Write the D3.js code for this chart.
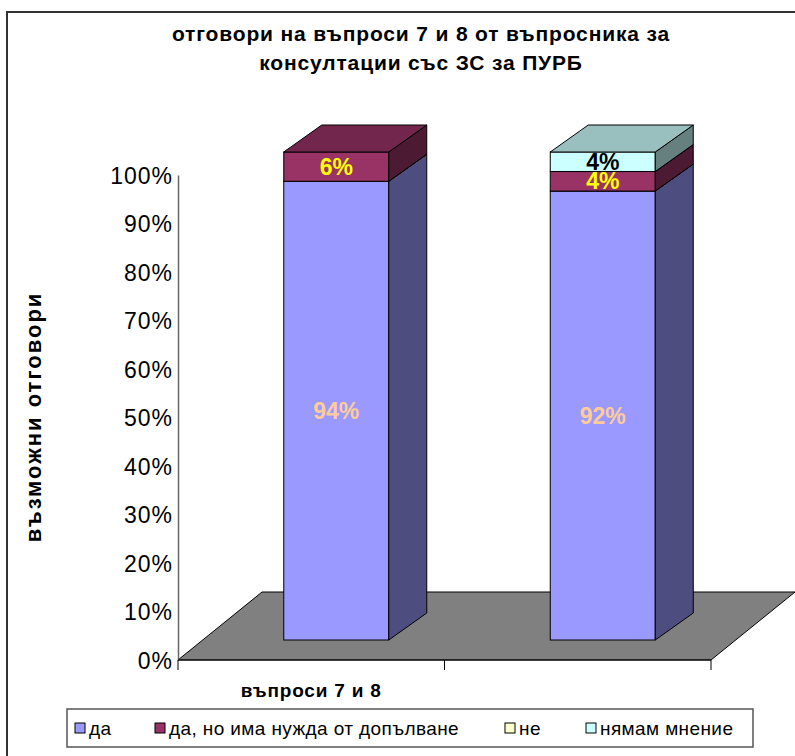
<!DOCTYPE html>
<html>
<head>
<meta charset="utf-8">
<script src="https://cdn.jsdelivr.net/npm/d3@7"></script>
<style>
  body { margin: 0; background: #fff; }
  text { font-family: Arial, "Liberation Sans", sans-serif; }
</style>
</head>
<body>
<script>
// categories on the x axis
const categories = ['q1', 'q2'];
const categoryLabel = 'въпроси 7 и 8';

// series (stack order, bottom to top)
const seriesNames = ['да', 'да, но има нужда от допълване', 'не', 'нямам мнение'];
const seriesColors = ['#9999FF', '#993366', '#FFFFCC', '#CCFFFF'];
const labelColors = ['#FFCC99', '#FFFF00', '#000000', '#000000'];

// share of answers per category, one array per series
const daValues = [0.94, 0.92];
const daNoValues = [0.06, 0.04];
const neValues = [0.00, 0.00];
const nyamamValues = [0.00, 0.04];

const yTicks = [0, 0.1, 0.2, 0.3, 0.4, 0.5, 0.6, 0.7, 0.8, 0.9, 1.0];

const w = 795, h = 756;

const svg = d3.select('body').append('svg')
    .attr('width', w)
    .attr('height', h);

// outer chart border
svg.append('rect')
    .attr('x', 7).attr('y', 12)
    .attr('width', w + 20).attr('height', h + 20)
    .attr('fill', 'none')
    .attr('stroke', '#333')
    .attr('stroke-width', 2);

// title
const title = svg.append('text')
    .attr('text-anchor', 'middle')
    .attr('font-weight', 'bold')
    .attr('font-size', 21)
    .attr('letter-spacing', 0.85);
title.append('tspan').attr('x', 421).attr('y', 41).text('отговори на въпроси 7 и 8 от въпросника за');
title.append('tspan').attr('x', 421).attr('y', 70).text('консултации със ЗС за ПУРБ');

// scales
const x = d3.scaleBand().domain(categories).range([178, 711]);
const y = d3.scaleLinear().domain([0, 1]).range([660, 175]);
// front plane of the columns sits a bit deeper than the axis plane
const floorDepth = [84, -68];
const barShift = [25, -20];
const yBar = d3.scaleLinear().domain([0, 1]).range([640, 152]);
const barDepth = [38, -27];
const barWidth = 105;

// floor
const x0 = x.range()[0], x1 = x.range()[1], y0 = y(0);
svg.append('path')
    .attr('d', `M${x0},${y0}L${x1},${y0}L${x1 + floorDepth[0]},${y0 + floorDepth[1]}L${x0 + floorDepth[0]},${y0 + floorDepth[1]}Z`)
    .attr('fill', '#808080')
    .attr('stroke', '#000')
    .attr('stroke-width', 1);

// y axis
const yAxis = d3.axisLeft(y)
    .tickValues(yTicks)
    .tickSize(0)
    .tickPadding(5)
    .tickFormat(d3.format('.0%'));
const yg = svg.append('g')
    .attr('transform', `translate(${x0},0)`)
    .call(yAxis);
yg.select('.domain').attr('stroke', '#666').attr('stroke-width', 1.5);
yg.selectAll('text')
    .attr('font-size', 23)
    .attr('letter-spacing', 1)
    .attr('dy', '0.36em')
    .attr('fill', '#000')
    .attr('font-family', 'Arial, "Liberation Sans", sans-serif');

// x axis line and tick marks
svg.append('line')
    .attr('x1', x0).attr('x2', x1)
    .attr('y1', y0).attr('y2', y0)
    .attr('stroke', '#000');
svg.selectAll('.xtick')
    .data([x0, x1 / 2 + x0 / 2, x1])
    .enter()
    .append('line')
    .attr('class', 'xtick')
    .attr('x1', d => d).attr('x2', d => d)
    .attr('y1', y0).attr('y2', y0 + 10)
    .attr('stroke', '#000');

svg.append('text')
    .attr('x', x(categories[0]) + x.bandwidth() / 2)
    .attr('y', 697)
    .attr('text-anchor', 'middle')
    .attr('font-weight', 'bold')
    .attr('font-size', 19)
    .attr('letter-spacing', 0.8)
    .text(categoryLabel);

// y axis title
svg.append('text')
    .attr('transform', 'translate(41,417) rotate(-90)')
    .attr('text-anchor', 'middle')
    .attr('font-weight', 'bold')
    .attr('font-size', 22)
    .attr('letter-spacing', 2)
    .text('възможни отговори');

// stacked data
const rows = categories.map((c, i) => ({
    cat: c,
    s0: daValues[i],
    s1: daNoValues[i],
    s2: neValues[i],
    s3: nyamamValues[i]
}));
const stack = d3.stack().keys(['s0', 's1', 's2', 's3']);
const stacked = stack(rows);

const shade = (c, k) => {
    const col = d3.rgb(c);
    return d3.rgb(col.r * k, col.g * k, col.b * k).formatHex();
};

categories.forEach((c, ci) => {
    const bx = x(c) + x.bandwidth() / 2 + barShift[0] - barWidth / 2;
    const g = svg.append('g');
    stacked.forEach((layer, si) => {
        const d = layer[ci];
        if (d[1] - d[0] <= 0) return;
        const yb = yBar(d[0]), yt = yBar(d[1]);
        const bxr = bx + barWidth;
        // front
        g.append('rect')
            .attr('x', bx).attr('y', yt)
            .attr('width', barWidth).attr('height', yb - yt)
            .attr('fill', seriesColors[si])
            .attr('stroke', '#000');
        // side
        g.append('path')
            .attr('d', `M${bxr},${yb}L${bxr + barDepth[0]},${yb + barDepth[1]}L${bxr + barDepth[0]},${yt + barDepth[1]}L${bxr},${yt}Z`)
            .attr('fill', shade(seriesColors[si], 0.5))
            .attr('stroke', '#000')
            .attr('stroke-linejoin', 'round');
        // top
        g.append('path')
            .attr('d', `M${bx},${yt}L${bxr},${yt}L${bxr + barDepth[0]},${yt + barDepth[1]}L${bx + barDepth[0]},${yt + barDepth[1]}Z`)
            .attr('fill', shade(seriesColors[si], 0.75))
            .attr('stroke', '#000')
            .attr('stroke-linejoin', 'round');
    });
    // data labels
    stacked.forEach((layer, si) => {
        const d = layer[ci];
        if (d[1] - d[0] <= 0) return;
        g.append('text')
            .attr('x', bx + barWidth / 2)
            .attr('y', (yBar(d[0]) + yBar(d[1])) / 2 + 8)
            .attr('text-anchor', 'middle')
            .attr('font-weight', 'bold')
            .attr('font-size', 23)
            .attr('fill', labelColors[si])
            .text(d3.format('.0%')(d[1] - d[0]));
    });
});

// legend
const legend = svg.append('g');
legend.append('rect')
    .attr('x', 67).attr('y', 709)
    .attr('width', 686).attr('height', 38)
    .attr('fill', '#fff')
    .attr('stroke', '#555')
    .attr('stroke-width', 1.5);
const legendX = [75, 155, 505, 586];
const items = legend.selectAll('.item')
    .data(seriesNames)
    .enter()
    .append('g')
    .attr('class', 'item')
    .attr('transform', (d, i) => `translate(${legendX[i]},728)`);
items.append('rect')
    .attr('x', 0).attr('y', -5)
    .attr('width', 10).attr('height', 10)
    .attr('fill', (d, i) => seriesColors[i])
    .attr('stroke', '#000');
items.append('text')
    .attr('x', 14).attr('y', 7)
    .attr('font-size', 19)
    .attr('letter-spacing', 0.4)
    .text(d => d);
</script>
</body>
</html>
